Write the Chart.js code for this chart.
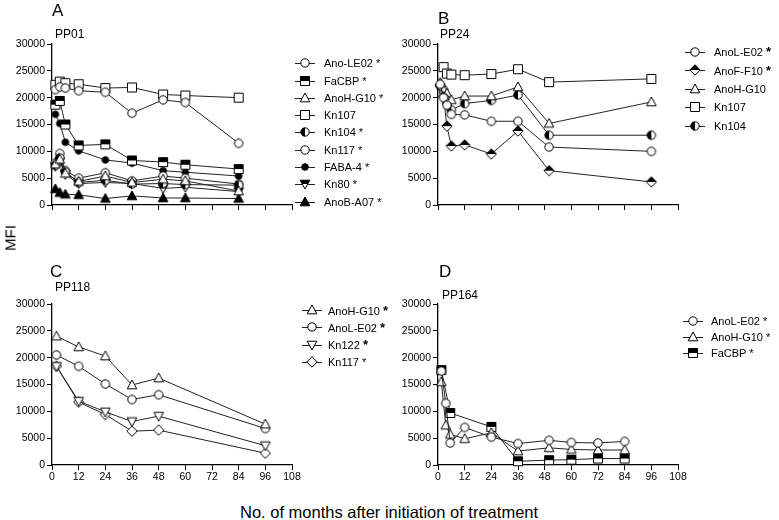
<!DOCTYPE html>
<html>
<head>
<meta charset="utf-8">
<script src="https://cdn.jsdelivr.net/npm/chart.js@4.4.1/dist/chart.umd.min.js"></script>
<style>
  body { margin: 0; background: #fff; font-family: Arial, "Liberation Sans", sans-serif; }
  #page { position: relative; width: 779px; height: 520px; overflow: hidden; }
  .panel { position: absolute; }
  .lbl { position: absolute; color: #000; white-space: nowrap; line-height: 1; }
  .letter { font-size: 17px; }
  .title { font-size: 12px; }
  .legend { position: absolute; font-size: 11px; color: #000; }
  .legend .item { display: flex; align-items: center; white-space: nowrap; }
  .legend canvas { display: block; }
</style>
</head>
<body>
<div id="page">
  <canvas id="chartA" class="panel" style="left:0;top:0"></canvas>
  <canvas id="chartB" class="panel" style="left:390px;top:0"></canvas>
  <canvas id="chartC" class="panel" style="left:0;top:260px"></canvas>
  <canvas id="chartD" class="panel" style="left:390px;top:260px"></canvas>

  <div class="lbl letter" style="left:52px;top:2px">A</div>
  <div class="lbl letter" style="left:438px;top:10px">B</div>
  <div class="lbl letter" style="left:50px;top:263px">C</div>
  <div class="lbl letter" style="left:439px;top:263px">D</div>

  <div class="lbl title" style="left:55px;top:28px">PP01</div>
  <div class="lbl title" style="left:440px;top:28px">PP24</div>
  <div class="lbl title" style="left:55px;top:281px">PP118</div>
  <div class="lbl title" style="left:442px;top:289px">PP164</div>

  <div class="lbl" style="left:10px;top:238px;font-size:15px;transform:translate(-50%,-50%) rotate(-90deg)">MFI</div>
  <div class="lbl" style="left:240px;top:504px;font-size:16.5px">No. of months after initiation of treatment</div>

  <div id="legendA" class="legend" style="left:295px;top:54.6px"></div>
  <div id="legendB" class="legend" style="left:685px;top:42.5px"></div>
  <div id="legendC" class="legend" style="left:302px;top:301.5px"></div>
  <div id="legendD" class="legend" style="left:683px;top:313px"></div>
</div>

<script>
// months after treatment start (x values per panel)
const monthsA = [1.5, 3.5, 6, 12, 24, 36, 50, 60, 84]
const monthsB = [1, 2.5, 4, 6, 12, 24, 36, 50, 96]
const monthsC = [2, 12, 24, 36, 48, 96]
const monthsD = [1.5, 3.5, 5.5, 12, 24, 36, 50, 60, 72, 84]

// PP01
const A_AnoLE02 = [21500, 22000, 21800, 21300, 21000, 17100, 19600, 19100, 11500]
const A_FaCBP   = [18700, 19400, 15000, 11100, 11300, 8300, 8000, 7500, 6700]
const A_AnoHG10 = [7600, 8500, 5900, 4400, 5400, 4200, 4800, 4500, 2600]
const A_Kn107   = [22400, 23000, 22700, 22500, 21800, 21900, 20600, 20400, 20000]
const A_Kn104   = [7400, 8800, 6200, 4200, 4600, 3900, 4000, 3800, 3700]
const A_Kn117   = [7800, 9600, 6400, 5000, 6000, 4500, 5400, 5000, 3900]
const A_FABA4   = [16900, 15200, 11700, 10100, 8400, 7800, 6400, 6100, 5400]
const A_Kn80    = [7200, 8100, 5700, 4000, 4200, 4000, 3100, 3300, 2500]
const A_AnoBA07 = [3000, 2300, 2000, 1900, 1200, 1700, 1300, 1300, 1200]

// PP24
const B_AnoLE02 = [22500, 20000, 18600, 16900, 16800, 15600, 15600, 10800, 10000]
const B_AnoFF10 = [22300, 20200, 14700, 11000, 11200, 9500, 13800, 6400, 4300]
const B_AnoHG10 = [22800, 21500, 20800, 19600, 20300, 20300, 22000, 15200, 19200]
const B_Kn107   = [null, 25700, 24500, 24300, 24200, 24400, 25300, 22900, 23500]
const B_Kn104   = [22200, 21500, 19000, 17700, 18900, 19500, 20500, 13000, 13000]

// PP118
const C_AnoHG10 = [24000, 22000, 20300, 14900, 16200, 7600]
const C_AnoLE02 = [20500, 18400, 15100, 12200, 13100, 6800]
const C_Kn122   = [18400, 11900, 9900, 8100, 9100, 3600]
const C_Kn117   = [18400, 11700, 9400, 6300, 6500, 2200]

// PP164
const D_AnoLE02 = [17500, 11500, 4100, 7000, 5200, 4000, 4600, 4200, 4100, 4400]
const D_AnoHG10 = [15500, 7400, 5700, 4900, 6000, 2600, 3200, 2900, 2800, 2800]
const D_FaCBP   = [17700, null, 9700, null, 7100, 700, 900, 1000, 1200, 1200]

const yTicks = [0, 5000, 10000, 15000, 20000, 25000, 30000]
const xTicks = [0, 12, 24, 36, 48, 60, 72, 84, 96, 108]

// marker images, drawn once and used as pointStyle
function marker(shape, fill) {
  const c = document.createElement('canvas')
  c.width = 12
  c.height = 12
  const g = c.getContext('2d')
  const path = () => {
    g.beginPath()
    if (shape === 'circle') g.arc(6, 6, 4.2, 0, Math.PI * 2)
    if (shape === 'dot') g.arc(6, 6, 3.3, 0, Math.PI * 2)
    if (shape === 'square') g.rect(1.5, 1.5, 9, 9)
    if (shape === 'triangle') { g.moveTo(6, 1); g.lineTo(10.8, 9.8); g.lineTo(1.2, 9.8); g.closePath() }
    if (shape === 'triDown') { g.moveTo(1.2, 2.2); g.lineTo(10.8, 2.2); g.lineTo(6, 11); g.closePath() }
    if (shape === 'diamond') { g.moveTo(6, 0.8); g.lineTo(11.2, 6); g.lineTo(6, 11.2); g.lineTo(0.8, 6); g.closePath() }
  }
  path()
  g.fillStyle = fill === 'full' ? '#000' : '#fff'
  g.fill()
  if (fill === 'top' || fill === 'left' || fill === 'bottom') {
    g.save()
    path()
    g.clip()
    g.fillStyle = '#000'
    if (fill === 'top') g.fillRect(0, 0, 12, 6)
    if (fill === 'bottom') g.fillRect(0, 6, 12, 6)
    if (fill === 'left') g.fillRect(0, 0, 6, 12)
    g.restore()
  }
  path()
  g.lineWidth = 1
  g.strokeStyle = '#000'
  g.stroke()
  return c
}

const M = {
  circle: marker('circle', 'open'),
  dot: marker('dot', 'full'),
  halfCircle: marker('circle', 'left'),
  square: marker('square', 'open'),
  halfSquare: marker('square', 'top'),
  triangle: marker('triangle', 'open'),
  triFilled: marker('triangle', 'full'),
  triDown: marker('triDown', 'top'),
  triDownOpen: marker('triDown', 'open'),
  diamond: marker('diamond', 'open'),
  halfDiamond: marker('diamond', 'top')
}

const tickFont = { family: 'Arial, "Liberation Sans", sans-serif', size: 10.5 }

function drawPanel(id, months, series, box, showX) {
  const cv = document.getElementById(id)
  cv.width = box.w
  cv.height = box.h
  new Chart(cv, {
    type: 'line',
    data: {
      datasets: series.map(s => ({
        label: s.name,
        data: months.map((m, i) => ({ x: m, y: s.values[i] })),
        pointStyle: M[s.marker],
        pointRadius: 5,
        borderColor: '#222',
        borderWidth: 1,
        spanGaps: true,
        tension: 0,
        clip: false
      }))
    },
    options: {
      responsive: false,
      animation: false,
      events: [],
      layout: { padding: { left: 0, top: box.top, right: box.right, bottom: box.bottom } },
      plugins: { legend: { display: false }, tooltip: { enabled: false } },
      scales: {
        x: {
          type: 'linear', min: 0, max: 108,
          afterBuildTicks: s => { s.ticks = xTicks.map(v => ({ value: v })) },
          ticks: { display: showX, font: tickFont, color: '#000', padding: 1, maxRotation: 0, autoSkip: false, callback: v => String(v) },
          grid: { drawOnChartArea: false, drawTicks: true, tickLength: 5, color: '#000' },
          border: { color: '#000', width: 1.3 },
          afterFit: s => { s.height = 25 }
        },
        y: {
          min: 0, max: 30000,
          afterBuildTicks: s => { s.ticks = yTicks.map(v => ({ value: v })) },
          ticks: { font: tickFont, color: '#000', padding: 2, callback: v => String(v) },
          grid: { drawOnChartArea: false, drawTicks: true, tickLength: 5, color: '#000' },
          border: { color: '#000', width: 1.3 },
          afterFit: s => { s.width = box.left }
        }
      }
    }
  })
}

function drawLegend(id, series, rowH, gap) {
  const el = document.getElementById(id)
  series.forEach(s => {
    const row = document.createElement('div')
    row.className = 'item'
    row.style.height = rowH + 'px'
    const ic = document.createElement('canvas')
    ic.width = 20
    ic.height = 12
    const g = ic.getContext('2d')
    g.strokeStyle = '#222'
    g.lineWidth = 1
    g.beginPath()
    g.moveTo(0, 6.5)
    g.lineTo(20, 6.5)
    g.stroke()
    g.drawImage(M[s.marker], 4, 0)
    const t = document.createElement('span')
    t.style.marginLeft = gap + 'px'
    t.innerHTML = s.name + (s.star ? (s.bold ? ' <b style="font-size:13px">*</b>' : ' *') : '')
    row.appendChild(ic)
    row.appendChild(t)
    el.appendChild(row)
  })
}

const seriesA = [
  { name: 'Ano-LE02', star: true, marker: 'circle', values: A_AnoLE02 },
  { name: 'FaCBP', star: true, marker: 'halfSquare', values: A_FaCBP },
  { name: 'AnoH-G10', star: true, marker: 'triangle', values: A_AnoHG10 },
  { name: 'Kn107', star: false, marker: 'square', values: A_Kn107 },
  { name: 'Kn104', star: true, marker: 'halfCircle', values: A_Kn104 },
  { name: 'Kn117', star: true, marker: 'circle', values: A_Kn117 },
  { name: 'FABA-4', star: true, marker: 'dot', values: A_FABA4 },
  { name: 'Kn80', star: true, marker: 'triDown', values: A_Kn80 },
  { name: 'AnoB-A07', star: true, marker: 'triFilled', values: A_AnoBA07 }
]
const seriesB = [
  { name: 'AnoL-E02', star: true, bold: true, marker: 'circle', values: B_AnoLE02 },
  { name: 'AnoF-F10', star: true, bold: true, marker: 'halfDiamond', values: B_AnoFF10 },
  { name: 'AnoH-G10', star: false, marker: 'triangle', values: B_AnoHG10 },
  { name: 'Kn107', star: false, marker: 'square', values: B_Kn107 },
  { name: 'Kn104', star: false, marker: 'halfCircle', values: B_Kn104 }
]
const seriesC = [
  { name: 'AnoH-G10', star: true, bold: true, marker: 'triangle', values: C_AnoHG10 },
  { name: 'AnoL-E02', star: true, bold: true, marker: 'circle', values: C_AnoLE02 },
  { name: 'Kn122', star: true, bold: true, marker: 'triDownOpen', values: C_Kn122 },
  { name: 'Kn117', star: true, marker: 'diamond', values: C_Kn117 }
]
const seriesD = [
  { name: 'AnoL-E02', star: true, marker: 'circle', values: D_AnoLE02 },
  { name: 'AnoH-G10', star: true, marker: 'triangle', values: D_AnoHG10 },
  { name: 'FaCBP', star: true, marker: 'halfSquare', values: D_FaCBP }
]

drawPanel('chartA', monthsA, seriesA, { w: 390, h: 260, left: 52, top: 44, right: 98, bottom: 30 }, false)
drawPanel('chartB', monthsB, seriesB, { w: 389, h: 260, left: 48, top: 44, right: 101, bottom: 30 }, false)
drawPanel('chartC', monthsC, seriesC, { w: 390, h: 235, left: 52, top: 44, right: 98, bottom: 5 }, true)
drawPanel('chartD', monthsD, seriesD, { w: 389, h: 235, left: 48, top: 44, right: 101, bottom: 5 }, true)

drawLegend('legendA', seriesA, 17.3, 9)
drawLegend('legendB', seriesB, 18.5, 9)
drawLegend('legendC', seriesC, 17.3, 6)
drawLegend('legendD', seriesD, 16, 8)
</script>
</body>
</html>
